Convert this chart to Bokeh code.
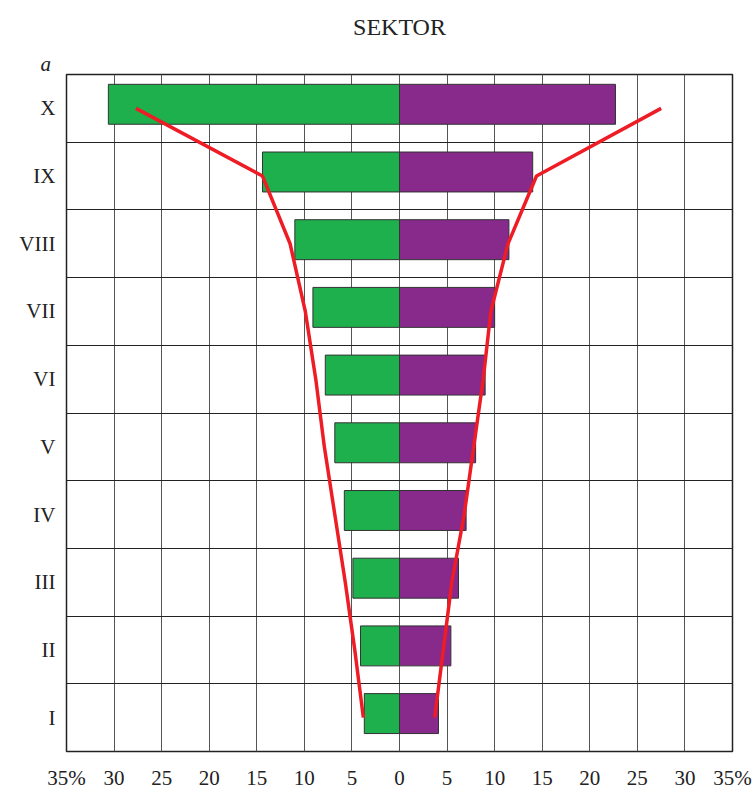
from bokeh.plotting import figure
from bokeh.models import FixedTicker, Title, ColumnDataSource
from bokeh.embed import file_html
from bokeh.resources import INLINE

# Data (rows listed bottom to top: I .. X)
categories = ["I", "II", "III", "IV", "V", "VI", "VII", "VIII", "IX", "X"]
left_values = [3.7, 4.1, 4.9, 5.8, 6.8, 7.8, 9.1, 11.0, 14.4, 30.6]      # green, left side (%)
right_values = [4.1, 5.4, 6.2, 7.0, 8.0, 9.0, 10.0, 11.5, 14.0, 22.7]    # purple, right side (%)
left_line = [3.8, 4.7, 5.7, 6.8, 7.9, 8.8, 9.9, 11.5, 14.4, 27.7]        # red line, left
right_line = [3.7, 4.6, 5.5, 6.8, 7.8, 8.8, 9.6, 11.4, 14.4, 27.5]       # red line, right
x_ticks = [-35, -30, -25, -20, -15, -10, -5, 0, 5, 10, 15, 20, 25, 30, 35]
x_tick_labels = ["35%", "30", "25", "20", "15", "10", "5", "0", "5", "10", "15", "20", "25", "30", "35%"]
title_text = "SEKTOR"
corner_text = "a"

FONT = "Liberation Serif"
W, H = 755, 792

p = figure(width=W, height=H, x_range=(-35, 35), y_range=(0, 10),
           output_backend="svg", toolbar_location=None,
           min_border_left=66, min_border_right=W - 732,
           min_border_top=74, min_border_bottom=H - 752)
p.background_fill_color = "white"
p.border_fill_color = "white"
p.outline_line_color = "#222222"
p.outline_line_width = 1.5

n = len(categories)
centers = [i + 0.5 for i in range(n)]
bar_y = [c + 0.06 for c in centers]

src = ColumnDataSource(dict(
    y=bar_y,
    lneg=[-v for v in left_values],
    rpos=right_values,
    zero=[0] * n,
))

p.hbar(y="y", left="lneg", right="zero", height=0.59, source=src,
       fill_color="#1DB04C", line_color="#333333", line_width=1)
p.hbar(y="y", left="zero", right="rpos", height=0.59, source=src,
       fill_color="#88298C", line_color="#333333", line_width=1)

p.line([-v for v in left_line], centers, line_color="#EE1C25", line_width=3.5)
p.line(right_line, centers, line_color="#EE1C25", line_width=3.5)

# grids
p.xgrid.ticker = FixedTicker(ticks=x_ticks[1:-1])
p.xgrid.grid_line_color = "#555555"
p.xgrid.grid_line_width = 1
p.ygrid.ticker = FixedTicker(ticks=list(range(1, n)))
p.ygrid.grid_line_color = "#222222"
p.ygrid.grid_line_width = 1.2
p.xgrid.level = "underlay"
p.ygrid.level = "underlay"

# x axis
p.xaxis.ticker = FixedTicker(ticks=x_ticks)
p.xaxis.major_label_overrides = {t: l for t, l in zip(x_ticks, x_tick_labels)}
p.xaxis.axis_line_color = None
p.xaxis.major_tick_line_color = None
p.xaxis.minor_tick_line_color = None
p.xaxis.major_tick_out = 0
p.xaxis.major_label_standoff = 14
p.xaxis.major_label_text_font = FONT
p.xaxis.major_label_text_font_size = "21px"
p.xaxis.major_label_text_color = "#222222"

# y axis
p.yaxis.ticker = FixedTicker(ticks=centers)
p.yaxis.major_label_overrides = {c: l for c, l in zip(centers, categories)}
p.yaxis.axis_line_color = None
p.yaxis.major_tick_line_color = None
p.yaxis.minor_tick_line_color = None
p.yaxis.major_tick_out = 0
p.yaxis.major_label_standoff = 11
p.yaxis.major_label_text_font = FONT
p.yaxis.major_label_text_font_size = "21px"
p.yaxis.major_label_text_color = "#222222"

# title (panel heights chosen so that they fill exactly the top border)
p.title.text = title_text
p.title.align = "center"
p.title.text_font = FONT
p.title.text_font_size = "24px"
p.title.text_font_style = "normal"
p.title.text_color = "#222222"
p.title.standoff = 22

corner = Title(text=corner_text, align="left", offset=-26, text_font=FONT,
               text_font_size="21px", text_font_style="italic", text_color="#222222",
               standoff=-2)
p.add_layout(corner, "above")

open("out.html", "w").write(file_html(p, INLINE))
